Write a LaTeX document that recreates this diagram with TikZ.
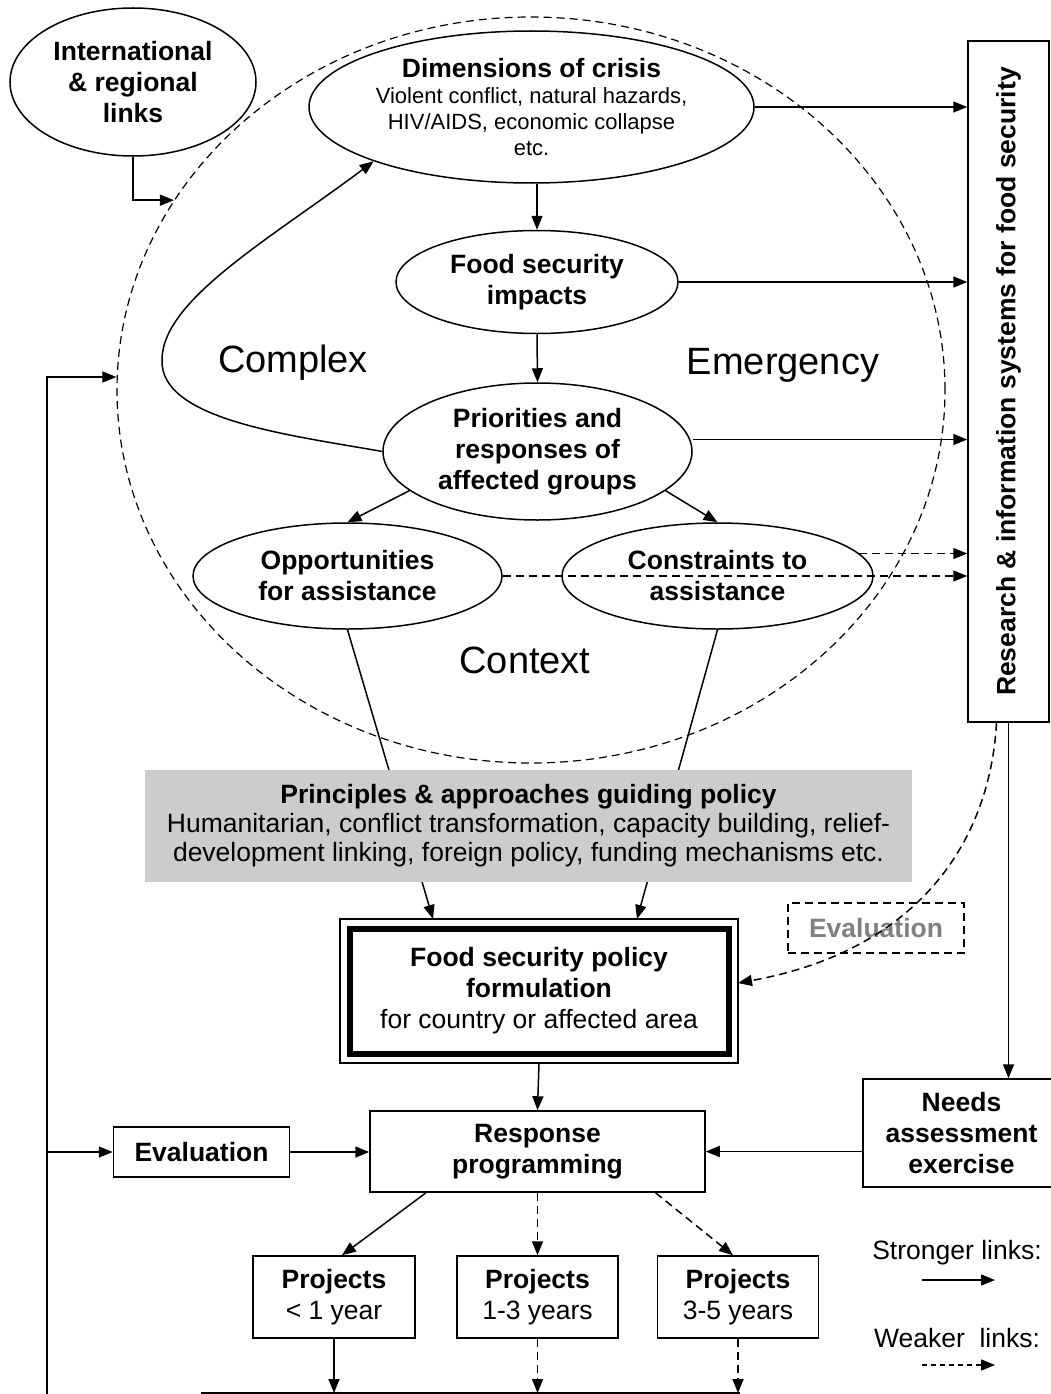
\documentclass[tikz,border=0pt]{standalone}
\usepackage{fontspec}
\setmainfont{Liberation Sans}
\usetikzlibrary{arrows.meta,shapes.geometric}
\definecolor{greybox}{RGB}{204,204,204}
\definecolor{evalgrey}{RGB}{128,128,128}
\newcommand{\mytf}{\fontsize{26.5}{31}\selectfont}
\newcommand{\mysm}{\fontsize{22}{26.3}\selectfont}
\begin{document}
\begin{tikzpicture}[x=1pt,y=-1pt,
  ln/.style={line width=1.5pt},
  arr/.style={-{Triangle[length=14pt,width=11pt]}},
  weak/.style={dash pattern=on 8pt off 5pt},
  ell/.style={ellipse,draw,ln,inner sep=0pt,align=center,font=\mytf\bfseries},
  box/.style={rectangle,draw,ln,inner sep=0pt,align=center,font=\mytf\bfseries},
  big/.style={inner sep=0pt,font=\fontsize{38}{44}\selectfont},
]
\useasboundingbox (0,0) rectangle (1050,1394);
\fill[white] (0,0) rectangle (1050,1394);

% context circle
\node[ellipse,draw,line width=1.2pt,weak,inner sep=0pt,minimum width=828pt,minimum height=746pt] (ctx) at (531,390) {};

% ellipses
\node[ell,minimum width=246pt,minimum height=148pt] (intl) at (133,82) {International\\\& regional\\links};
\node[ell,minimum width=445pt,minimum height=152pt,font=\mysm] (dim) at (531.5,107)
  {{\fontsize{26.5}{27}\selectfont\bfseries Dimensions of crisis}\\Violent conflict, natural hazards,\\HIV/AIDS, economic collapse\\etc.};
\node[ell,minimum width=282pt,minimum height=103pt] (fsi) at (537,282) {Food security\\impacts};
\node[ell,minimum width=309pt,minimum height=137pt] (pri) at (537.5,451.5) {Priorities and\\responses of\\affected groups};
\node[ell,minimum width=309pt,minimum height=106pt] (opp) at (347.5,576) {Opportunities\\for assistance};
\node[ell,minimum width=311pt,minimum height=106pt] (cons) at (717.5,576) {Constraints to\\assistance};

% words
\node[big] (tcomplex) at (293,363) {Complex};
\node[big] (temerg) at (783,365) {Emergency};
\node[big] (tcontext) at (525,660) {Context};

% research box
\node[draw,ln,rotate=90,inner sep=0pt,minimum width=681pt,minimum height=81pt,font=\mytf\bfseries] (res) at (1008.5,381.5) {Research \& information systems for food security};

% policy box
\node[draw,line width=6pt,inner sep=0pt,minimum width=379pt,minimum height=125pt,align=center,font=\mytf] (pol) at (539,991)
  {\textbf{Food security policy}\\\textbf{formulation}\\for country or affected area};
\draw[line width=1.3pt] ([shift={(-6.5pt,6.5pt)}]pol.north west) rectangle ([shift={(6.5pt,-6.5pt)}]pol.south east);

% lines from opportunities / constraints to policy (under grey box)
\draw[ln,arr] (opp.south) -- ([shift={(-106pt,6.5pt)}]pol.north);
\draw[ln,arr] (cons.south) -- ([shift={(98pt,6.5pt)}]pol.north);

% grey box
\node[fill=greybox,inner sep=0pt,minimum width=767pt,minimum height=112pt,align=center,font=\fontsize{26.5}{29}\selectfont] (prin) at (528.5,826)
  {\textbf{Principles \& approaches guiding policy}\\Humanitarian, conflict transformation, capacity building, relief-\\development linking, foreign policy, funding mechanisms etc.};

% evaluation (dashed)
\node[draw,ln,weak,inner sep=0pt,minimum width=176pt,minimum height=50pt,text=evalgrey,font=\mytf\bfseries] (evd) at (876,928) {Evaluation};

% lower boxes
\node[box,minimum width=197pt,minimum height=108pt] (needs) at (961.5,1133) {Needs\\assessment\\exercise};
\node[box,minimum width=335pt,minimum height=81pt] (resp) at (537.5,1151.5) {Response\\programming};
\node[box,minimum width=176pt,minimum height=50pt] (ev) at (201.5,1152) {Evaluation};
\node[box,minimum width=162pt,minimum height=82pt] (p1) at (334,1297) {Projects\\\mdseries < 1 year};
\node[box,minimum width=161pt,minimum height=82pt] (p2) at (537.5,1297) {Projects\\\mdseries 1-3 years};
\node[box,minimum width=161pt,minimum height=82pt] (p3) at (738,1297) {Projects\\\mdseries 3-5 years};

% legend
\node[inner sep=0pt,font=\mytf] (lgs) at (957,1253) {Stronger links:};
\node[inner sep=0pt,font=\mytf] (lgw) at (957,1338) {Weaker\ \ links:};
\coordinate (s1) at (922,1280);
\coordinate (s2) at (995,1280);
\coordinate (w1) at (922,1365);
\coordinate (w2) at (995,1365);
\draw[ln,arr] (s1) -- (s2);
\draw[ln,dash pattern=on 5pt off 4pt,arr] (w1) -- (w2);

% coordinates
\coordinate (fb) at (47,1394);
\coordinate (bot) at (201,1393);
\coordinate (botR) at (740,1393);

% connectors
\draw[ln,arr] (intl.south) |- (ctx.152);
\draw[ln,arr] (fb) |- ([yshift=13pt]ctx.west);
\draw[ln,arr] (fsi.north |- dim.south) -- (fsi.north);
\draw[ln,arr] (fsi.south) -- (pri.north);
\draw[ln,arr] (pri.west) .. controls (290,435) and (160,420) .. (162,360)
  .. controls (162,300) and (270,239) .. (dim.south west);
\draw[ln,arr] (pri.197) -- (opp.north);
\draw[ln,arr] (pri.343) -- (cons.north);

\draw[ln,arr] (dim.east) -- (dim.east -| res.north);
\draw[ln,arr] (fsi.east) -- (fsi.east -| res.north);
\draw[ln,arr] ([yshift=12pt]pri.east) -- ([yshift=12pt]pri.east -| res.north);
\draw[ln,weak,arr] (cons.9.3) -- (cons.9.3 -| res.north);
\draw[ln,weak,arr] (opp.east) -- (opp.east -| res.north);

\draw[ln,weak,arr] ([xshift=-12pt]res.west) .. controls (990,840) and (920,950) .. ([shift={(6.5pt,8pt)}]pol.east);
\draw[ln,arr] (res.west) -- (res.west |- needs.north);

\draw[ln,arr] ([yshift=-6.5pt]pol.south) -- (resp.north);
\draw[ln,arr] (fb |- ev.west) -- (ev.west);
\draw[ln,arr] (ev.east) -- (ev.east -| resp.west);
\draw[ln,arr] (needs.west |- resp.east) -- (resp.east);

\draw[ln,arr] ([xshift=-111.5pt]resp.south) -- ([xshift=8pt]p1.north);
\draw[ln,weak,arr] (resp.south) -- (p2.north);
\draw[ln,weak,arr] ([xshift=118pt]resp.south) -- ([xshift=-5pt]p3.north);

\draw[ln] (bot) -- (botR);
\draw[ln,arr] (p1.south) -- (p1.south |- bot);
\draw[ln,weak,arr] (p2.south) -- (p2.south |- bot);
\draw[ln,weak,arr] (p3.south) -- (p3.south |- bot);
\end{tikzpicture}
\end{document}
